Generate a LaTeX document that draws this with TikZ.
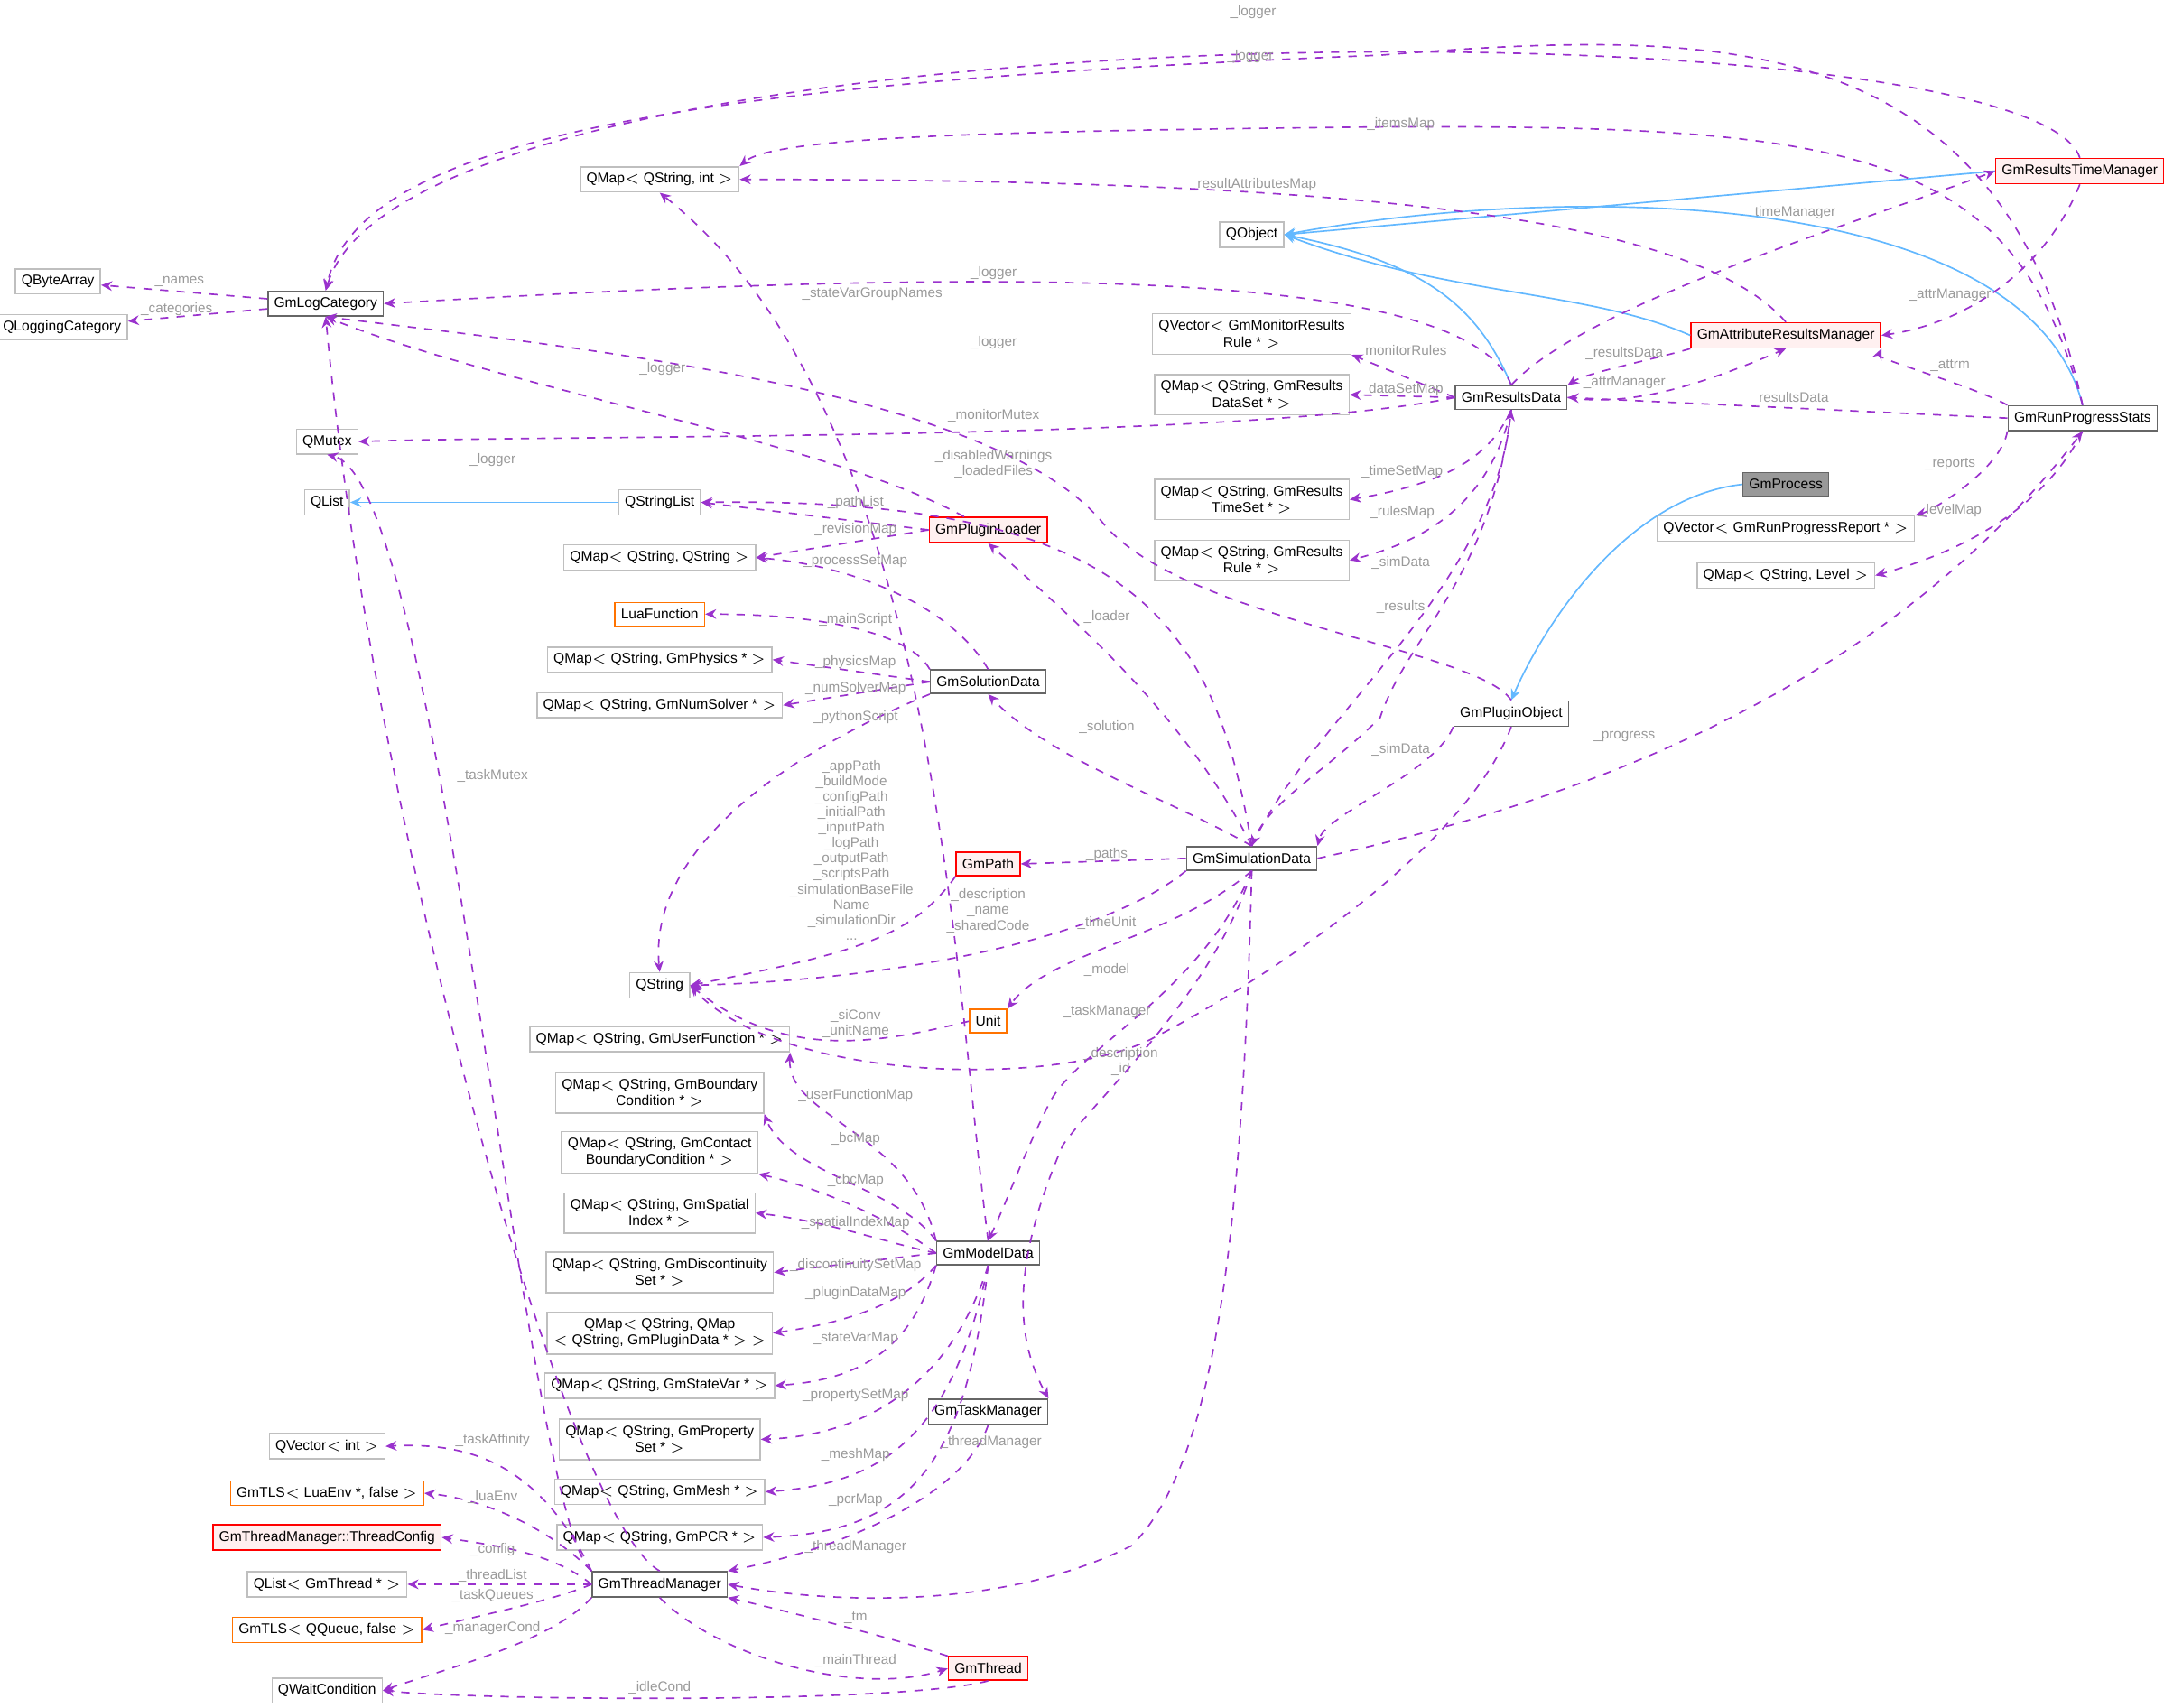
\documentclass[tikz,border=0pt]{standalone}
\usepackage{fontspec}
\setmainfont{Liberation Sans}
\usetikzlibrary{arrows.meta,positioning}
\definecolor{depc}{HTML}{9A32CD}
\definecolor{inhc}{HTML}{63B8FF}
\definecolor{lblc}{HTML}{9A9A9A}
\tikzset{
  box/.style={draw=#1,fill=white,line width=0.5pt,inner sep=2.2pt,minimum height=8.5pt,
    font=\fontsize{5.1}{6}\selectfont,align=center},
  ext/.style={box={black!25}},
  cls/.style={box={black!60}},
  redcls/.style={box=red,fill=red!6},
  orgcls/.style={box={orange!90!red}},
  cur/.style={box={black!60},fill=black!40},
  dep/.style={draw=depc,dashed,line width=0.55pt,-{Stealth[length=4pt,width=3.5pt]}},
  inh/.style={draw=inhc,line width=0.55pt,-{Stealth[length=4pt,width=3.5pt]}},
  lbl/.style={text=lblc,font=\fontsize{5}{5.6}\selectfont,align=center,inner sep=0.5pt}
}
\begin{document}
\begin{tikzpicture}[x=0.5pt,y=-0.5pt]
\useasboundingbox (0,0) rectangle (1568,1237);
% left column
\node[ext] (qba) at (42,204) {QByteArray};
\node[ext] (qlc) at (45,237) {QLoggingCategory};
\node[cls] (glog) at (236,220) {GmLogCategory};
\node[ext] (qmtx) at (237,320) {QMutex};
\node[ext] (qlst) at (237,364) {QList};
\node[ext] (qvi) at (237,1048) {QVector$<$ int $>$};
\node[orgcls] (tlsl) at (237,1082) {GmTLS$<$ LuaEnv *, false $>$};
\node[redcls] (tcfg) at (237,1114) {GmThreadManager::ThreadConfig};
\node[ext] (qlth) at (237,1148) {QList$<$ GmThread * $>$};
\node[orgcls] (tlsq) at (237,1181) {GmTLS$<$ QQueue, false $>$};
\node[ext] (qwc) at (237,1225) {QWaitCondition};
% second column
\node[ext] (qmi) at (478,130) {QMap$<$ QString, int $>$};
\node[ext] (qsl) at (478,364) {QStringList};
\node[ext] (qmss) at (478,404) {QMap$<$ QString, QString $>$};
\node[orgcls] (lua) at (478,445) {LuaFunction};
\node[ext] (qmph) at (478,478) {QMap$<$ QString, GmPhysics * $>$};
\node[ext] (qmns) at (478,511) {QMap$<$ QString, GmNumSolver * $>$};
\node[ext] (qstr) at (478,714) {QString};
\node[ext] (qmuf) at (478,753) {QMap$<$ QString, GmUserFunction * $>$};
\node[ext] (qmbc) at (478,792) {QMap$<$ QString, GmBoundary\\Condition * $>$};
\node[ext] (qmcb) at (478,835) {QMap$<$ QString, GmContact\\BoundaryCondition * $>$};
\node[ext] (qmsi) at (478,879) {QMap$<$ QString, GmSpatial\\Index * $>$};
\node[ext] (qmds) at (478,922) {QMap$<$ QString, GmDiscontinuity\\Set * $>$};
\node[ext] (qmpd) at (478,966) {QMap$<$ QString, QMap\\$<$ QString, GmPluginData * $>$ $>$};
\node[ext] (qmsv) at (478,1004) {QMap$<$ QString, GmStateVar * $>$};
\node[ext] (qmps) at (478,1043) {QMap$<$ QString, GmProperty\\Set * $>$};
\node[ext] (qmme) at (478,1081) {QMap$<$ QString, GmMesh * $>$};
\node[ext] (qmpc) at (478,1114) {QMap$<$ QString, GmPCR * $>$};
\node[cls] (gtm) at (478,1148) {GmThreadManager};
% third column
\node[redcls] (gpl) at (716,384) {GmPluginLoader};
\node[cls] (gsol) at (716,494) {GmSolutionData};
\node[redcls] (gpath) at (716,626) {GmPath};
\node[orgcls] (unit) at (716,740) {Unit};
\node[cls] (gmd) at (716,908) {GmModelData};
\node[cls] (gtask) at (716,1023) {GmTaskManager};
\node[redcls] (gthr) at (716,1209) {GmThread};
% fourth column
\node[ext] (qobj) at (907,170) {QObject};
\node[ext] (qvmr) at (907,242) {QVector$<$ GmMonitorResults\\Rule * $>$};
\node[ext] (qmrd) at (907,286) {QMap$<$ QString, GmResults\\DataSet * $>$};
\node[ext] (qmrt) at (907,362) {QMap$<$ QString, GmResults\\TimeSet * $>$};
\node[ext] (qmrr) at (907,406) {QMap$<$ QString, GmResults\\Rule * $>$};
\node[cls] (gsim) at (907,622) {GmSimulationData};
% right part
\node[cls] (grd) at (1095,288) {GmResultsData};
\node[cls] (gpo) at (1095,517) {GmPluginObject};
\node[redcls] (gar) at (1294,243) {GmAttributeResultsManager};
\node[cur] (gproc) at (1294,351) {GmProcess};
\node[ext] (qvrp) at (1294,383) {QVector$<$ GmRunProgressReport * $>$};
\node[ext] (qmlv) at (1294,417) {QMap$<$ QString, Level $>$};
\node[redcls] (grt) at (1507,124) {GmResultsTimeManager};
\node[cls] (grp) at (1509,303) {GmRunProgressStats};

% inheritance
\draw[inh] (qsl) -- (qlst);
\draw[inh] (grt.west) -- (qobj.east);
\draw[inh] (gar.west) .. controls (1150,210) and (1050,215) .. (qobj.east);
\draw[inh] (grd.north) .. controls (1070,220) and (1030,190) .. (qobj.east);
\draw[inh] (grp.north) .. controls (1470,140) and (1150,130) .. (qobj.east);
\draw[inh] (gproc.west) .. controls (1180,360) and (1120,450) .. (gpo.north);

% GmLogCategory users
\draw[dep] (glog) -- (qba);
\draw[dep] (glog) -- (qlc);
\draw[dep] (grt.north) .. controls (1470,0) and (300,0) .. (glog.north);
\draw[dep] (grp.north) .. controls (1450,20) and (1250,20) .. (1000,40) .. controls (500,60) and (260,100) .. (glog.north);
\draw[dep] (grd.north) .. controls (1060,190) and (700,195) .. (glog.east);
\draw[dep] (gpl) .. controls (600,320) and (360,280) .. (glog.south);
\draw[dep] (gpo.north) .. controls (1070,470) and (860,450) .. (800,380) .. controls (720,280) and (400,250) .. (glog.south);
\draw[dep] (gtm.north) .. controls (410,1100) and (270,600) .. (glog.south);
\node[lbl] (l_names) at (130,204) {\_names};
\node[lbl] (l_cats) at (128,224) {\_categories};
\node[lbl] (l_log1) at (908,9) {\_logger};
\node[lbl] (l_log2) at (906,41) {\_logger};
\node[lbl] (l_log3) at (720,198) {\_logger};
\node[lbl] (l_log4) at (480,267) {\_logger};
\node[lbl] (l_log5) at (720,248) {\_logger};
\node[lbl] (l_log6) at (357,333) {\_logger};

% QMap<QString,int>
\draw[dep] (grp.north) .. controls (1460,110) and (1350,90) .. (1000,92) .. controls (700,95) and (560,100) .. (qmi.north east);
\draw[dep] (gar.north) .. controls (1230,160) and (1000,130) .. (qmi.east);
\draw[dep] (gmd.north) .. controls (690,700) and (680,300) .. (qmi.south);
\node[lbl] (l_items) at (1015,90) {\_itemsMap};
\node[lbl] (l_rattr) at (908,134) {\_resultAttributesMap};
\node[lbl] (l_svg) at (632,213) {\_stateVarGroupNames};

% results managers
\draw[dep] (grd.north) .. controls (1150,220) and (1350,160) .. (grt.west);
\draw[dep] (grt.south) .. controls (1480,200) and (1420,235) .. (gar.east);
\draw[dep] (gar.south west) .. controls (1200,260) and (1150,270) .. (grd.north east);
\draw[dep] (grd.east) .. controls (1180,295) and (1230,280) .. (gar.south);
\draw[dep] (grp.north west) .. controls (1430,280) and (1360,260) .. (gar.south east);
\draw[dep] (grp.west) -- (grd.east);
\node[lbl] (l_tm) at (1298,154) {\_timeManager};
\node[lbl] (l_am1) at (1413,214) {\_attrManager};
\node[lbl] (l_rd1) at (1177,256) {\_resultsData};
\node[lbl] (l_am2) at (1177,277) {\_attrManager};
\node[lbl] (l_attrm) at (1413,265) {\_attrm};
\node[lbl] (l_rd2) at (1297,289) {\_resultsData};

% GmResultsData members
\draw[dep] (grd.west) -- (qvmr.south east);
\draw[dep] (grd.west) -- (qmrd.east);
\draw[dep] (grd.west) .. controls (900,320) and (400,315) .. (qmtx.east);
\draw[dep] (grd.south) .. controls (1080,330) and (1050,350) .. (qmrt.east);
\draw[dep] (grd.south) .. controls (1080,360) and (1040,390) .. (qmrr.east);
\draw[dep] (grd.south) .. controls (1080,420) and (1020,460) .. (1000,520) .. controls (960,560) and (920,580) .. (gsim.north);
\draw[dep] (gsim.north) .. controls (950,520) and (1080,430) .. (grd.south);
\node[lbl] (l_mr) at (1016,255) {\_monitorRules};
\node[lbl] (l_dsm) at (1016,282) {\_dataSetMap};
\node[lbl] (l_mm) at (720,301) {\_monitorMutex};
\node[lbl] (l_tsm) at (1016,342) {\_timeSetMap};
\node[lbl] (l_rm) at (1016,371) {\_rulesMap};
\node[lbl] (l_sd1) at (1015,408) {\_simData};
\node[lbl] (l_res) at (1015,440) {\_results};

% GmRunProgressStats members
\draw[dep] (grp.south west) .. controls (1450,340) and (1400,370) .. (qvrp.north east);
\draw[dep] (grp.south) .. controls (1480,370) and (1420,400) .. (qmlv.east);
\draw[dep] (gsim.east) .. controls (1100,590) and (1350,520) .. (grp.south);
\node[lbl] (l_rep) at (1413,336) {\_reports};
\node[lbl] (l_lvl) at (1413,370) {\_levelMap};
\node[lbl] (l_prog) at (1177,534) {\_progress};

% GmPluginObject
\draw[dep] (gpo.south west) .. controls (1040,560) and (960,590) .. (gsim.north east);
\draw[dep] (gpo.south) .. controls (1060,620) and (900,720) .. (830,755) .. controls (750,790) and (560,780) .. (qstr.east);
\node[lbl] (l_sd2) at (1015,543) {\_simData};
\node[lbl] (l_did) at (812,769) {\_description\\\_id};

% GmPluginLoader, GmSolutionData
\draw[dep] (gsim.north) .. controls (880,450) and (820,360) .. (qsl.east);
\draw[dep] (gpl.west) -- (qsl.east);
\draw[dep] (gpl.west) -- (qmss.east);
\draw[dep] (gsim.north) .. controls (860,520) and (780,450) .. (gpl.south);
\draw[dep] (gsim.north) .. controls (850,580) and (760,550) .. (gsol.south);
\draw[dep] (gsol.north) .. controls (690,440) and (620,410) .. (qmss.east);
\draw[dep] (gsol.north west) .. controls (660,460) and (600,445) .. (lua.east);
\draw[dep] (gsol.west) -- (qmph.east);
\draw[dep] (gsol.west) -- (qmns.east);
\draw[dep] (gsol.south west) .. controls (560,550) and (470,620) .. (qstr.north);
\node[lbl] (l_dw) at (720,336) {\_disabledWarnings\\\_loadedFiles};
\node[lbl] (l_pl) at (620,364) {\_pathList};
\node[lbl] (l_rvm) at (620,384) {\_revisionMap};
\node[lbl] (l_psm) at (620,407) {\_processSetMap};
\node[lbl] (l_ldr) at (802,447) {\_loader};
\node[lbl] (l_ms) at (620,449) {\_mainScript};
\node[lbl] (l_phm) at (620,480) {\_physicsMap};
\node[lbl] (l_nsm) at (620,499) {\_numSolverMap};
\node[lbl] (l_py) at (620,520) {\_pythonScript};
\node[lbl] (l_sol) at (802,527) {\_solution};

% GmSimulationData members
\draw[dep] (gsim.west) -- (gpath.east);
\draw[dep] (gpath.south west) .. controls (660,680) and (620,690) .. (qstr.east);
\draw[dep] (gsim.south west) .. controls (800,680) and (650,710) .. (qstr.east);
\draw[dep] (gsim.south) .. controls (850,680) and (760,690) .. (unit.north east);
\draw[dep] (unit.west) .. controls (640,755) and (570,770) .. (qstr.east);
\draw[dep] (gsim.south) .. controls (870,720) and (780,760) .. (760,800) .. controls (740,840) and (730,870) .. (gmd.north);
\draw[dep] (gsim.south) .. controls (880,720) and (790,800) .. (770,830) .. controls (740,900) and (730,960) .. (gtask.north east);
\draw[dep] (gsim.south) .. controls (900,900) and (880,1060) .. (820,1120) .. controls (720,1170) and (590,1160) .. (gtm.east);
\node[lbl] (l_paths) at (802,619) {\_paths};
\node[lbl] (l_app) at (617,616) {\_appPath\\\_buildMode\\\_configPath\\\_initialPath\\\_inputPath\\\_logPath\\\_outputPath\\\_scriptsPath\\\_simulationBaseFile\\Name\\\_simulationDir\\...};
\node[lbl] (l_dns) at (716,660) {\_description\\\_name\\\_sharedCode};
\node[lbl] (l_tu) at (802,669) {\_timeUnit};
\node[lbl] (l_unit) at (620,742) {\_siConv\\\_unitName};
\node[lbl] (l_mod) at (802,703) {\_model};
\node[lbl] (l_tk) at (802,733) {\_taskManager};
\node[lbl] (l_thm1) at (620,1121) {\_threadManager};

% GmModelData members
\draw[dep] (gmd.north west) .. controls (660,820) and (570,810) .. (qmuf.south east);
\draw[dep] (gmd.north west) .. controls (650,860) and (570,850) .. (qmbc.south east);
\draw[dep] (gmd.west) .. controls (640,880) and (590,860) .. (qmcb.south east);
\draw[dep] (gmd.west) .. controls (640,900) and (600,885) .. (qmsi.east);
\draw[dep] (gmd.west) -- (qmds.east);
\draw[dep] (gmd.south west) .. controls (650,950) and (600,960) .. (qmpd.east);
\draw[dep] (gmd.south west) .. controls (660,980) and (620,1000) .. (qmsv.east);
\draw[dep] (gmd.south) .. controls (690,1000) and (630,1040) .. (qmps.east);
\draw[dep] (gmd.south) .. controls (690,1040) and (640,1075) .. (qmme.east);
\draw[dep] (gmd.south) .. controls (700,1060) and (660,1110) .. (qmpc.east);
\node[lbl] (l_ufm) at (620,794) {\_userFunctionMap};
\node[lbl] (l_bc) at (620,825) {\_bcMap};
\node[lbl] (l_cbc) at (620,855) {\_cbcMap};
\node[lbl] (l_sim) at (620,886) {\_spatialIndexMap};
\node[lbl] (l_dsm2) at (620,917) {\_discontinuitySetMap};
\node[lbl] (l_pdm) at (620,937) {\_pluginDataMap};
\node[lbl] (l_svm) at (620,970) {\_stateVarMap};
\node[lbl] (l_psm2) at (620,1011) {\_propertySetMap};
\node[lbl] (l_msh) at (620,1054) {\_meshMap};
\node[lbl] (l_pcr) at (620,1087) {\_pcrMap};

% thread manager
\draw[dep] (gtask.south) .. controls (700,1080) and (620,1120) .. (gtm.north east);
\draw[dep] (gtm.north west) .. controls (380,1100) and (320,350) .. (qmtx.south);
\draw[dep] (gtm.north west) .. controls (390,1060) and (340,1045) .. (qvi.east);
\draw[dep] (gtm.north west) .. controls (390,1100) and (340,1085) .. (tlsl.east);
\draw[dep] (gtm.west) .. controls (400,1125) and (360,1120) .. (tcfg.east);
\draw[dep] (gtm.west) -- (qlth.east);
\draw[dep] (gtm.west) .. controls (400,1160) and (350,1170) .. (tlsq.east);
\draw[dep] (gtm.south west) .. controls (400,1190) and (320,1210) .. (qwc.east);
\draw[dep] (gthr.north west) .. controls (640,1185) and (560,1165) .. (gtm.south east);
\draw[dep] (gtm.south) .. controls (520,1200) and (620,1230) .. (gthr.west);
\draw[dep] (gthr.south) .. controls (650,1235) and (350,1232) .. (qwc.east);
\node[lbl] (l_tmx) at (357,562) {\_taskMutex};
\node[lbl] (l_ta) at (357,1044) {\_taskAffinity};
\node[lbl] (l_le) at (357,1085) {\_luaEnv};
\node[lbl] (l_cfg) at (357,1123) {\_config};
\node[lbl] (l_tl) at (357,1142) {\_threadList};
\node[lbl] (l_tq) at (357,1156) {\_taskQueues};
\node[lbl] (l_mc) at (357,1180) {\_managerCond};
\node[lbl] (l_thm2) at (718,1045) {\_threadManager};
\node[lbl] (l_tmv) at (620,1172) {\_tm};
\node[lbl] (l_mt) at (620,1203) {\_mainThread};
\node[lbl] (l_ic) at (478,1223) {\_idleCond};
\end{tikzpicture}
\end{document}
